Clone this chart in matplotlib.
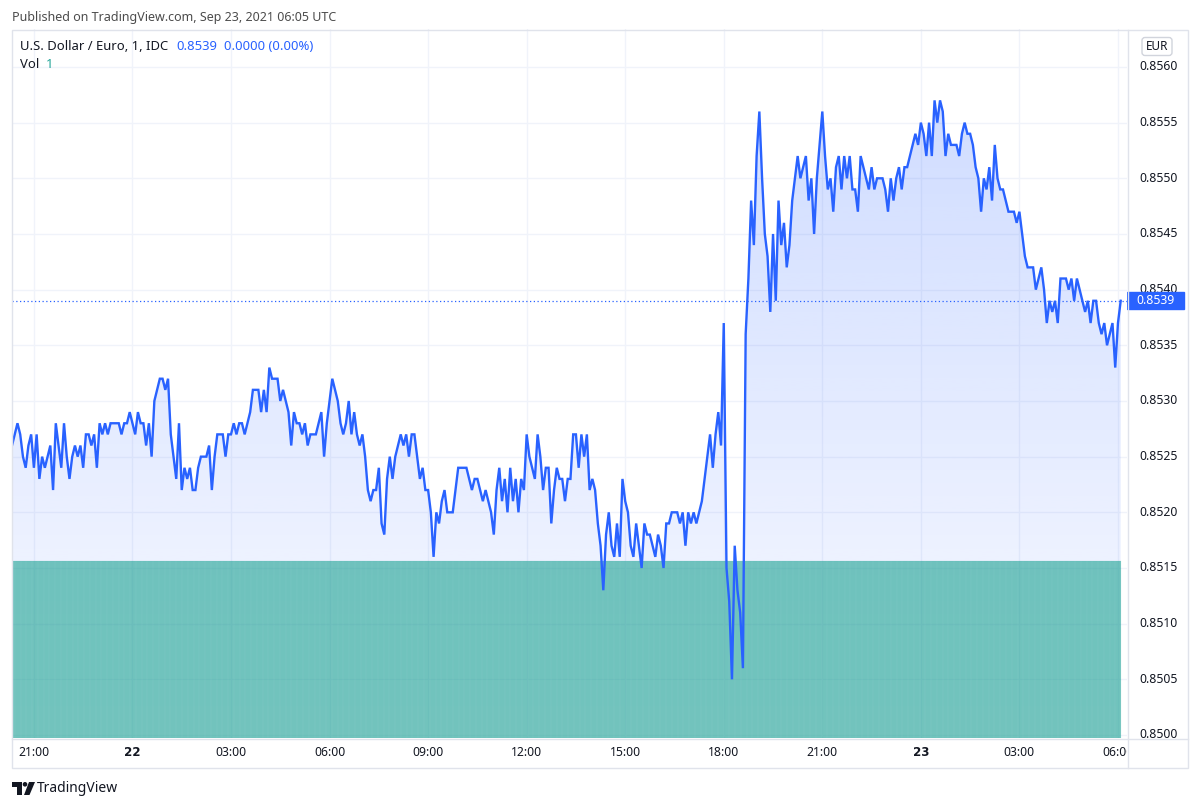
import numpy as np
import matplotlib
matplotlib.use("Agg")
import matplotlib.pyplot as plt
from matplotlib.patches import Polygon, Rectangle, FancyBboxPatch, Circle

plt.rcParams['font.family'] = ['Noto Sans', 'DejaVu Sans']

# USD/EUR 1-minute closes, sampled every 5 min from 2021-09-21 20:20 UTC,
# given as pips above 0.8500
pips = [
    26, 27, 28, 27, 25, 24, 26, 27, 24, 27,
    23, 25, 24, 25, 26, 22, 28, 26, 24, 28,
    25, 23, 25, 26, 25, 26, 24, 27, 27, 26,
    27, 24, 28, 27, 28, 27, 28, 28, 28, 28,
    27, 28, 28, 29, 28, 27, 29, 28, 28, 26,
    28, 25, 30, 31, 32, 32, 31, 32, 27, 25,
    23, 28, 22, 24, 23, 24, 22, 22, 24, 25,
    25, 25, 26, 22, 25, 27, 27, 27, 25, 27,
    27, 28, 27, 28,
    28, 27, 28, 29, 31, 31, 31, 29, 31, 29,
    33, 32, 32, 32, 30, 31, 30, 29, 26, 29,
    28, 28, 27, 28, 26, 27, 27, 27, 28, 29,
    25, 28, 30, 32, 31, 30, 28, 27, 28, 30,
    27, 29, 27, 26, 27, 25, 22, 21, 22, 22,
    24, 19, 18, 23, 25, 23, 25, 26, 27, 26,
    27, 25, 27, 27, 25, 23, 24, 22, 22, 20,
    16, 20, 19, 21, 22, 20, 20, 20, 22, 24,
    24, 24,
    24, 23, 22, 23, 23, 22, 21, 22, 21, 20,
    18, 22, 24, 21, 23, 20, 24, 21, 23, 20,
    23, 22, 27, 25, 24, 23, 27, 25, 22, 24,
    24, 19, 22, 24, 23, 23, 21, 23, 23, 27,
    27, 24, 27, 25, 27, 22, 23, 22, 19, 17,
    13, 18, 20, 17, 16, 19, 16, 23, 21, 20,
    17, 16, 19, 17, 15, 19, 18, 18, 17, 16,
    18, 17, 15, 19, 19, 20, 20, 20, 19, 20,
    17, 20, 19, 20, 19, 20, 21, 23, 25, 27,
    24, 27, 29, 26, 37, 15, 12, 5, 17, 13,
    11, 6, 36, 41, 48, 44, 52, 56, 50, 45,
    43, 38, 45, 39, 48, 44, 46, 42, 44, 48,
    50, 52, 50, 51, 52, 48, 50, 45, 50, 53,
    56, 52, 49, 50, 47, 51, 52, 49, 52, 50,
    52, 49, 49, 47, 52, 51, 50, 49, 51, 49,
    50, 50, 50, 49, 47, 50, 48, 50, 51,
    49, 51, 51, 52, 53, 54, 53, 55, 54, 52,
    55, 52, 57, 55, 57, 56, 52, 54, 53, 53,
    53, 52, 54, 55, 54, 54, 53, 51, 50, 47,
    50, 49, 51, 48, 53, 50, 49, 49, 48, 47,
    47, 47, 46, 47, 45, 43, 42, 42, 42, 40,
    41, 42, 40, 37, 39, 38, 39, 37, 41, 41,
    41, 40, 41, 39, 41, 40, 39, 38, 39, 37,
    39, 39, 37, 36, 37, 35, 36, 37, 33, 37,
    39,
]
step_min = 5

# volume: one bar per minute, every bar is 1
vol_minutes = 2026
vol_value = 1

# time axis, minutes after 20:20
tick_min = [40, 220, 400, 580, 760, 940, 1120, 1300, 1480, 1660, 1840, 2020]
tick_labels = ["21:00", "22", "03:00", "06:00", "09:00", "12:00",
               "15:00", "18:00", "21:00", "23", "03:00", "06:00"]
bold_labels = ["22", "23"]

price_ticks = [0.8500, 0.8505, 0.8510, 0.8515, 0.8520, 0.8525, 0.8530,
               0.8535, 0.8540, 0.8545, 0.8550, 0.8555, 0.8560]

BLUE = '#2962ff'
TEAL = '#26a69a'
TXT = '#131722'
GRID = '#f0f3fa'
BORDER = '#e0e3eb'

W, H = 1200, 807
fig = plt.figure(figsize=(W / 100, H / 100), dpi=100)
fig.patch.set_facecolor('white')


def rect(x0, y0, x1, y1):
    return [x0 / W, 1 - y1 / H, (x1 - x0) / W, (y1 - y0) / H]


t = np.arange(len(pips)) * step_min
price = 0.85 + np.array(pips) / 10000.0
xlim = (0, 2036.5)
ylim = (0.849973, 0.856341)

# pane with grid and gradient area
ax = fig.add_axes(rect(12, 29, 1127, 738))
for p in price_ticks:
    ax.axhline(p, color=GRID, lw=1, zorder=0)
for tm in tick_min:
    ax.axvline(tm, color=GRID, lw=1, zorder=0)

ybot = ylim[0]
verts = [(t[0], ybot)] + list(zip(t, price)) + [(t[-1], ybot)]
poly = Polygon(verts, closed=True, facecolor='none', edgecolor='none')
ax.add_patch(poly)
n = 256
img = np.zeros((n, 1, 4))
img[..., 0] = 41 / 255
img[..., 1] = 98 / 255
img[..., 2] = 1.0
img[:, 0, 3] = np.linspace(0.22, 0.03, n)
im = ax.imshow(img, extent=[t[0], t[-1], ybot, price.max()], aspect='auto',
               origin='upper', interpolation='bilinear', zorder=1)
im.set_clip_path(poly)
ax.set_xlim(*xlim)
ax.set_ylim(*ylim)
ax.axis('off')

# volume
axv = fig.add_axes(rect(12, 29, 1127, 738), sharex=ax)
axv.patch.set_visible(False)
axv.bar(np.arange(vol_minutes), np.full(vol_minutes, vol_value), width=1.0,
        color=TEAL, alpha=0.55, edgecolor=TEAL, linewidth=0.08)
axv.set_ylim(0, 4.0)
axv.set_xlim(*xlim)
axv.axis('off')

# price line
axl = fig.add_axes(rect(12, 29, 1127, 738), sharex=ax)
axl.patch.set_visible(False)
axl.plot(t, price, color=BLUE, lw=1.7, solid_joinstyle='miter')
axl.axhline(price[-1], color=BLUE, lw=0.9, ls=(0, (1, 2)))
axl.set_xlim(*xlim)
axl.set_ylim(*ylim)
axl.axis('off')

# price scale
axp = fig.add_axes(rect(1127, 29, 1188, 738))
axp.set_xlim(0, 1)
axp.set_ylim(*ylim)
axp.axis('off')
for p in price_ticks:
    axp.text(0.51, p, f"{p:.4f}", ha='center', va='center', fontsize=8.8,
             color=TXT, clip_on=True)
h = 17 / 111333
axp.add_patch(Rectangle((0, price[-1] - h / 2), 57 / 61, h, color=BLUE,
                        transform=axp.get_yaxis_transform(), zorder=5))
axp.text(0.47, price[-1], f"{price[-1]:.4f}", ha='center', va='center',
         fontsize=8.8, color='white', zorder=6)

# time scale
axt = fig.add_axes(rect(12, 738, 1127, 768), sharex=ax)
axt.set_ylim(0, 1)
axt.set_xlim(*xlim)
axt.axis('off')
for tm, lab in zip(tick_min, tick_labels):
    if lab in bold_labels:
        axt.text(tm, 0.5, lab, ha='center', va='center', fontsize=8.6, color=TXT,
                 family=['DejaVu Sans'], fontweight='bold', clip_on=True)
    else:
        axt.text(tm, 0.5, lab, ha='center', va='center', fontsize=8.8, color=TXT,
                 clip_on=True)

# overlay: frame, header, legend, logo
axo = fig.add_axes([0, 0, 1, 1])
axo.set_xlim(0, W)
axo.set_ylim(H, 0)
axo.axis('off')
axo.patch.set_visible(False)
axo.add_patch(Rectangle((11.5, 29.5), 1176.5, 738.5, fill=False, edgecolor=BORDER, lw=1))
axo.plot([1127.5, 1127.5], [29.5, 768], color=BORDER, lw=1)
axo.plot([11.5, 1188], [738.5, 738.5], color=BORDER, lw=1)

axo.text(12, 17, "Published on TradingView.com, Sep 23, 2021 06:05 UTC",
         fontsize=9, color='#4c4c4c', va='center', ha='left')
axo.text(20, 46, "U.S. Dollar / Euro, 1, IDC", fontsize=9.4, color=TXT, va='center')
axo.text(176, 46, f"{price[-1]:.4f}", fontsize=9.4, color=BLUE, va='center')
axo.text(224, 46, "0.0000 (0.00%)", fontsize=9.4, color=BLUE, va='center')
axo.text(20, 65, "Vol", fontsize=9.4, color=TXT, va='center')
axo.text(46, 65, str(vol_value), fontsize=9.4, color=TEAL, va='center')

axo.add_patch(FancyBboxPatch((1142, 37.5), 30, 18, boxstyle="round,pad=0,rounding_size=3",
                             facecolor='white', edgecolor='#d1d4dc', lw=1))
axo.text(1157, 46.5, "EUR", fontsize=8.5, color=TXT, ha='center', va='center')

# TradingView logo
axo.add_patch(Polygon([(12, 782), (21.5, 782), (21.5, 795), (16.5, 795), (16.5, 786.5), (12, 786.5)],
                      closed=True, color=TXT, lw=0))
axo.add_patch(Circle((25, 784.3), 2.3, color=TXT, lw=0))
axo.add_patch(Polygon([(29, 782), (35, 782), (29.5, 795), (24, 795)], closed=True, color=TXT, lw=0))
axo.text(37, 788, "TradingView", fontsize=10, color=TXT, va='center', ha='left')

fig.savefig("out.png", dpi=100, facecolor='white')
